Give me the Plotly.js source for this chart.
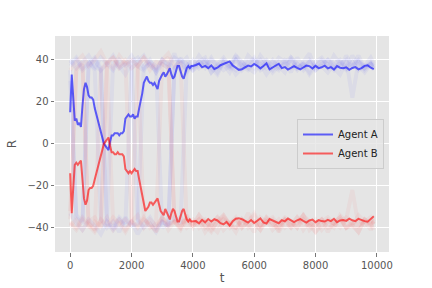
<!DOCTYPE html>
<html><head><meta charset="utf-8">
<script src="https://cdn.plot.ly/plotly-3.0.1.min.js"></script>
<style>html,body{margin:0;padding:0;background:#fff}#chart{width:432px;height:288px}</style>
</head><body><div id="chart"></div>
<script>
// Mean curves: t = 0..4000 step 50, then 4100..9900 step 100
var meanA_early = [15,33,22,11,12,9,10,8,18,26,29,27,23,22,22,21,17,14,11,9,6,3,0,-1,-2,-3,1,4,4,5,5,5,4,5,5,6,12,13,14,13,13,14,12,13,13,17,20,24,29,31,32,30,29,29,28,29,27,26,30,32,33,34,32,33,35,36,33,31,32,35,37,37,34,32,31,34,36,37,36,37,37];
var meanA_late = [37.5,38.2,36.4,37.1,36.0,37.3,35.6,36.2,37.4,38.1,38.6,39.2,37.3,36.1,35.2,35.5,36.3,37.2,36.8,38.0,37.1,35.9,37.0,38.3,35.4,36.2,37.1,38.1,36.0,36.5,35.3,36.2,37.0,36.1,35.4,36.3,37.2,36.9,35.8,37.1,36.0,36.4,37.2,35.9,36.5,35.3,37.0,36.2,36.0,36.4,35.2,36.1,36.5,35.4,36.0,37.1,37.4,36.2,35.5];
var meanB_early = [-14,-33,-21,-10,-9,-10,-9,-8,-17,-26,-29,-27,-22,-21,-21,-20,-17,-14,-11,-8,-6,-3,0,1,2,3,-1,-4,-4,-5,-5,-4,-5,-5,-5,-6,-12,-13,-14,-13,-14,-13,-12,-13,-13,-17,-21,-25,-29,-32,-31,-30,-28,-28,-29,-28,-27,-26,-29,-32,-33,-34,-31,-33,-35,-36,-33,-31,-32,-35,-37,-37,-34,-32,-31,-34,-36,-37,-36,-37,-37];
var meanB_late = [-36.8,-37.9,-36.2,-37.4,-35.8,-37.0,-35.9,-36.5,-37.8,-38.3,-37.2,-38.9,-36.8,-35.7,-35.4,-35.9,-36.6,-37.5,-36.3,-37.7,-36.6,-35.5,-37.4,-38.0,-35.8,-36.6,-37.4,-37.8,-36.3,-36.9,-35.6,-36.5,-37.3,-36.4,-35.8,-36.7,-37.5,-36.5,-36.1,-37.3,-36.3,-36.8,-37.0,-36.2,-36.8,-35.7,-37.3,-36.5,-36.3,-36.7,-35.6,-36.4,-36.8,-35.7,-36.3,-36.8,-37.1,-36.0,-34.5];

// Individual runs: t = 0..9800 step 200, then 9900
var runsA = [
[30,-35,-38,36,40,35,38,42,37,33,39,41,36,38,34,40,37,43,35,38,36,39,41,34,37,40,38,33,36,42,39,35,37,40,36,38,34,41,37,39,35,38,40,36,33,39,37,42,36,38,35],
[38,41,36,39,35,-36,-40,-37,-42,-35,-39,-38,37,40,34,38,36,41,39,35,37,42,38,36,33,39,37,40,35,38,41,36,39,34,37,40,38,35,39,43,36,37,34,38,40,36,39,35,37,41,38],
[-33,-38,-41,-36,-39,-43,-37,-40,-35,-38,36,39,42,37,35,40,38,36,41,34,37,39,36,40,38,35,37,42,39,36,34,38,40,37,35,39,41,36,38,33,37,40,38,35,39,36,42,37,34,38,36],
[40,36,39,42,37,35,-38,-41,-36,-39,-37,-43,-38,-35,-40,-37,-39,36,38,41,35,37,40,38,34,39,36,42,37,35,38,40,36,39,37,34,41,38,36,39,35,37,40,38,36,42,37,39,35,38,37],
[35,-34,-37,39,36,41,38,35,40,37,39,-36,-40,-38,-42,-37,-39,-35,-38,37,40,36,39,34,38,41,37,35,39,36,40,38,33,37,41,39,36,38,35,40,37,39,36,42,38,35,37,40,36,39,37],
[37,40,35,38,41,36,-37,39,36,38,42,37,35,39,37,-40,-38,36,40,38,35,39,37,41,36,38,34,40,37,39,36,42,38,35,39,37,40,36,38,34,39,41,37,36,38,40,22,39,37,38,36]
];
var runsB = [
[-32,36,39,-37,-41,-36,-39,-35,-38,-42,-37,-34,-40,-36,-39,-35,-41,-37,-38,-36,-40,-34,-37,-39,-42,-36,-38,-35,-40,-37,-33,-39,-36,-41,-38,-35,-37,-40,-36,-39,-42,-37,-35,-38,-36,-40,-39,-34,-37,-41,-36],
[-37,-40,-35,-38,-41,35,39,41,37,40,36,38,-36,-39,-41,-35,-38,-37,-40,-34,-39,-36,-42,-38,-35,-37,-40,-36,-39,-33,-38,-41,-37,-35,-39,-36,-40,-38,-34,-37,-42,-39,-36,-38,-35,-40,-37,-39,-36,-38,-41],
[35,39,42,37,40,44,38,41,36,39,-37,-40,-36,-38,-42,-35,-39,-37,-41,-36,-38,-34,-40,-37,-39,-35,-38,-42,-36,-40,-37,-39,-35,-38,-41,-36,-37,-40,-34,-38,-39,-36,-42,-37,-35,-40,-38,-36,-39,-37,-35],
[-38,-41,-36,-39,-42,-37,39,36,42,38,40,37,41,35,39,38,36,-37,-40,-35,-39,-38,-36,-41,-37,-34,-39,-40,-36,-38,-42,-35,-37,-39,-36,-40,-38,-35,-41,-37,-39,-36,-38,-40,-34,-37,-39,-42,-36,-38,-37],
[-36,35,38,-40,-37,-39,-35,-41,-38,-36,-39,37,41,38,36,40,43,37,39,-38,-36,-40,-37,-39,-35,-41,-38,-36,-40,-37,-34,-39,-38,-36,-42,-37,-40,-35,-38,-39,-36,-41,-37,-38,-40,-36,-22,-39,-37,-35,-38],
[-39,-36,-41,-37,-35,-40,37,-38,-36,-41,-37,-39,-35,-40,-38,39,41,-37,-35,-40,-38,-36,-39,-42,-37,-34,-38,-40,-36,-39,-37,-41,-35,-38,-40,-36,-39,-37,-34,-41,-38,-36,-40,-39,-37,-35,-38,-42,-36,-39,-37]
];
var xTicks = [0,2000,4000,6000,8000,10000];
var yTicks = [-40,-20,0,20,40];
var names = ['Agent A','Agent B'];

var tMean = [];
for (var i = 0; i <= 4000; i += 50) tMean.push(i);
for (var i = 4100; i <= 9900; i += 100) tMean.push(i);
var tRun = [];
for (var i = 0; i < 50; i++) tRun.push(i*200);
tRun.push(9900);

var traces = [];
runsA.forEach(function(r){
  traces.push({x: tRun.slice(0, r.length), y: r, mode:'lines', showlegend:false, hoverinfo:'skip',
    line:{color:'rgba(0,0,255,0.045)', width:4}});
});
runsB.forEach(function(r){
  traces.push({x: tRun.slice(0, r.length), y: r, mode:'lines', showlegend:false, hoverinfo:'skip',
    line:{color:'rgba(255,0,0,0.045)', width:4}});
});
traces.push({x: tMean, y: meanA_early.concat(meanA_late), mode:'lines', name:names[0],
  line:{color:'rgba(0,0,255,0.6)', width:2}});
traces.push({x: tMean, y: meanB_early.concat(meanB_late), mode:'lines', name:names[1],
  line:{color:'rgba(255,0,0,0.6)', width:2}});

var layout = {
  width:432, height:288,
  margin:{l:55, r:43, t:36, b:36},
  paper_bgcolor:'#ffffff', plot_bgcolor:'#E5E5E5',
  font:{family:'DejaVu Sans', size:10, color:'#555555'},
  xaxis:{range:[-495,10395], tickvals:xTicks, ticktext:xTicks.map(String), showgrid:true, gridcolor:'#ffffff', gridwidth:1,
    zeroline:false, showline:false, ticks:'outside', ticklen:3.5, tickcolor:'#555555', tickwidth:0.8,
    title:{text:'t', font:{size:12, color:'#555555'}, standoff:4}},
  yaxis:{range:[-51.5,51.3], tickvals:yTicks, ticktext:yTicks.map(function(v){return v<0?'\u2212'+(-v):String(v);}), showgrid:true, gridcolor:'#ffffff', gridwidth:1,
    zeroline:false, showline:false, ticks:'outside', ticklen:3.5, tickcolor:'#555555', tickwidth:0.8,
    title:{text:'R', font:{size:12, color:'#555555'}, standoff:8}},
  legend:{x:0.985, xanchor:'right', y:0.5, yanchor:'middle', bgcolor:'rgba(229,229,229,0.8)', bordercolor:'#cccccc', borderwidth:1,
    font:{size:10, color:'#222222'}, itemwidth:30, tracegroupgap:0},
  showlegend:true
};
Plotly.newPlot('chart', traces, layout, {staticPlot:true, displayModeBar:false});
</script></body></html>
